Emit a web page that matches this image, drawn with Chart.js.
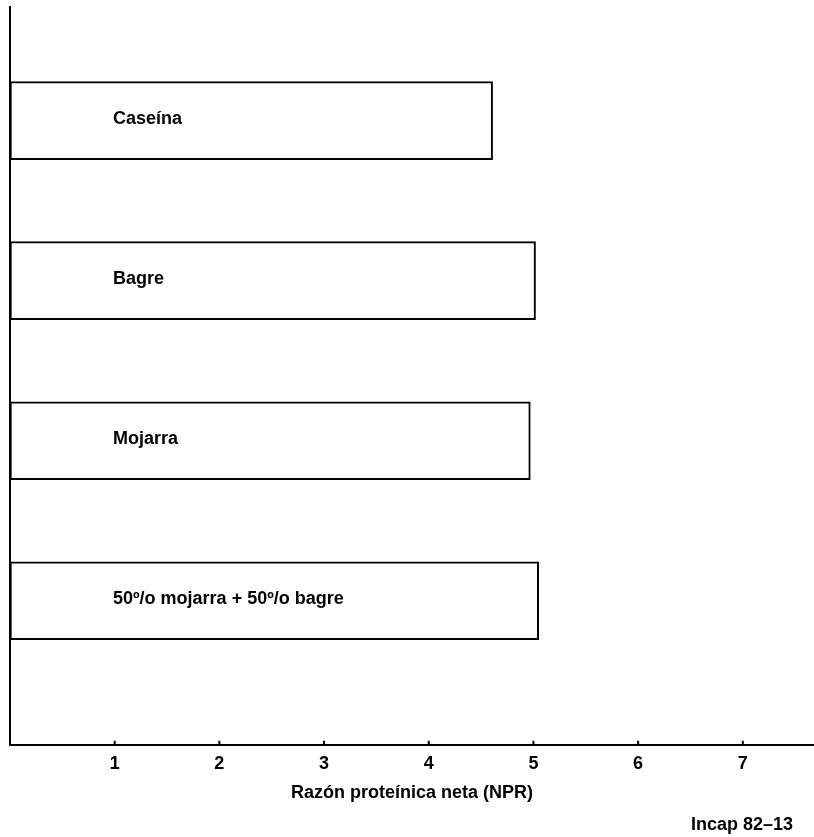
<!DOCTYPE html>
<html>
<head>
<meta charset="utf-8">
<script src="https://cdn.jsdelivr.net/npm/chart.js@4"></script>
<style>
  body { margin: 0; background: #fff; }
  #wrap { width: 814px; height: 837px; position: relative; }
</style>
</head>
<body>
<div id="wrap"><canvas id="nprChart"></canvas></div>
<script>
const categories = ["Caseína", "Bagre", "Mojarra", "50º/o mojarra + 50º/o bagre"];
const nprValues = [4.61, 5.02, 4.97, 5.05];
const tickValues = [1, 2, 3, 4, 5, 6, 7];
const axisTitle = "Razón proteínica neta (NPR)";
const footnote = "Incap 82–13";

const FONT = "'Liberation Sans', Arial, sans-serif";

// labels written inside each bar, near its left end
const barLabels = {
  id: "barLabels",
  afterDatasetsDraw(chart) {
    const ctx = chart.ctx;
    const meta = chart.getDatasetMeta(0);
    ctx.save();
    ctx.font = "bold 18px " + FONT;
    ctx.fillStyle = "#000";
    ctx.textBaseline = "middle";
    meta.data.forEach((bar, i) => {
      ctx.fillText(categories[i], bar.base + 103, bar.y - 2);
    });
    ctx.restore();
  },
};

// small upward tick marks on the x axis + footnote
const extras = {
  id: "extras",
  afterDraw(chart) {
    const ctx = chart.ctx;
    const xs = chart.scales.x;
    const yBottom = chart.chartArea.bottom;
    ctx.save();
    ctx.strokeStyle = "#000";
    ctx.lineWidth = 2;
    tickValues.forEach((v) => {
      const px = xs.getPixelForValue(v);
      ctx.beginPath();
      ctx.moveTo(px, yBottom);
      ctx.lineTo(px, yBottom - 4);
      ctx.stroke();
    });
    ctx.font = "bold 18px " + FONT;
    ctx.fillStyle = "#000";
    ctx.textAlign = "right";
    ctx.textBaseline = "middle";
    ctx.fillText(footnote, chart.width - 21, 825);
    ctx.restore();
  },
};

new Chart(document.getElementById("nprChart"), {
  type: "bar",
  data: {
    datasets: [
      {
        data: nprValues.map((v, i) => ({ x: v, y: i + 1 })),
        backgroundColor: "#fff",
        borderColor: "#000",
        borderWidth: 2,
        borderSkipped: false,
        barThickness: 78,
      },
    ],
  },
  options: {
    indexAxis: "y",
    responsive: true,
    maintainAspectRatio: false,
    animation: false,
    layout: { padding: { top: 7, left: 2, right: 0, bottom: 33 } },
    plugins: { legend: { display: false }, tooltip: { enabled: false } },
    scales: {
      y: {
        type: "linear",
        reverse: true,
        min: 0.29,
        max: 4.9,
        offset: false,
        grid: { display: false },
        ticks: { display: false },
        border: { display: true, color: "#000", width: 2 },
      },
      x: {
        type: "linear",
        min: 0,
        max: 7.68,
        grid: { display: false },
        border: { display: true, color: "#000", width: 2 },
        afterBuildTicks: (scale) => {
          scale.ticks = tickValues.map((v) => ({ value: v }));
        },
        ticks: {
          color: "#000",
          padding: 0,
          font: { family: FONT, size: 18, weight: "bold" },
          maxRotation: 0,
        },
        title: {
          display: true,
          text: axisTitle,
          color: "#000",
          padding: { top: 8, bottom: 0 },
          font: { family: FONT, size: 18, weight: "bold" },
        },
      },
    },
  },
  plugins: [barLabels, extras],
});
</script>
</body>
</html>
